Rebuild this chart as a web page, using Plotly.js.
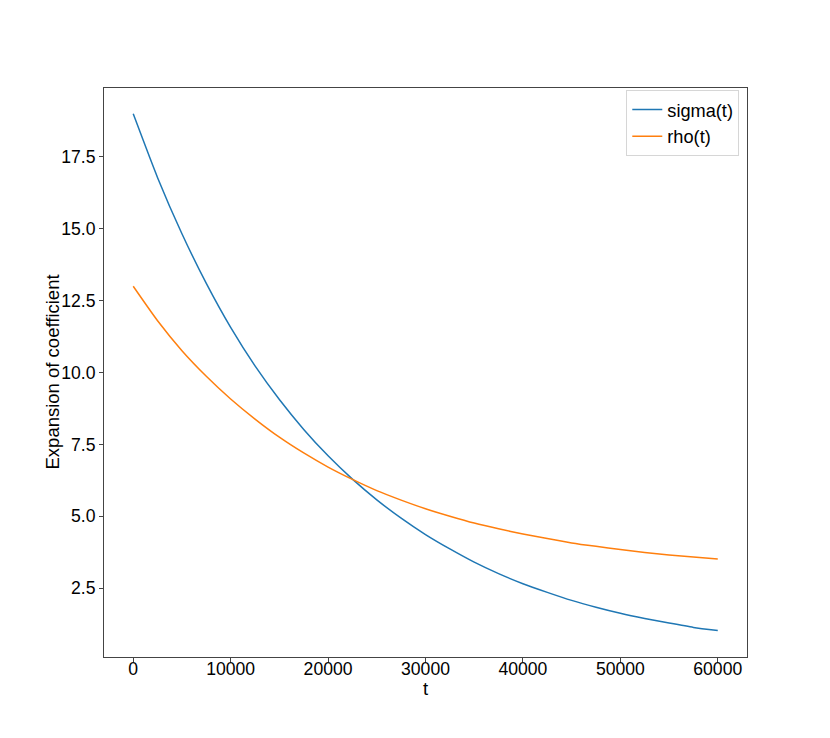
<!DOCTYPE html>
<html>
<head>
<meta charset="utf-8">
<script src="https://cdn.plot.ly/plotly-3.0.1.min.js"></script>
<style>html,body{margin:0;padding:0;background:#fff;}#chart{width:830px;height:738px;}</style>
</head>
<body>
<div id="chart"></div>
<script>
// t values (every 2500)
const tValues = [0,2500,5000,7500,10000,12500,15000,17500,20000,22500,25000,27500,30000,
                 32500,35000,37500,40000,42500,45000,47500,50000,52500,55000,57500,60000];
// sigma(t)
const sigmaValues = [19.00,16.78,14.83,13.10,11.57,10.23,9.06,8.02,7.10,6.29,5.57,4.93,4.36,
                     3.86,3.40,3.00,2.65,2.35,2.07,1.83,1.62,1.44,1.28,1.13,1.02];
// rho(t)
const rhoValues = [13.00,11.80,10.76,9.87,9.08,8.38,7.75,7.20,6.71,6.28,5.89,5.56,5.26,
                   5.00,4.76,4.56,4.38,4.22,4.07,3.95,3.84,3.74,3.65,3.58,3.51];
const seriesNames = ["sigma(t)", "rho(t)"];
const xTicks = [0,10000,20000,30000,40000,50000,60000];
const yTicks = [2.5,5.0,7.5,10.0,12.5,15.0,17.5];
const xTitle = "t";
const yTitle = "Expansion of coefficient";

const font = "Liberation Sans, Arial, sans-serif";
const fs = 17.6;
const traces = [
  {x: tValues, y: sigmaValues, name: seriesNames[0], mode: "lines",
   line: {color: "#1f77b4", width: 1.5, shape: "spline", smoothing: 0.6}},
  {x: tValues, y: rhoValues, name: seriesNames[1], mode: "lines",
   line: {color: "#ff7f0e", width: 1.5, shape: "spline", smoothing: 0.6}}
];
const layout = {
  width: 830, height: 738,
  margin: {l: 104, r: 83, t: 88, b: 81},
  paper_bgcolor: "#fff", plot_bgcolor: "#fff",
  font: {family: font, size: fs, color: "#000"},
  showlegend: true,
  legend: {x: 0.988, y: 0.996, xanchor: "right", yanchor: "top",
           bordercolor: "#d6d6d6", borderwidth: 1, bgcolor: "rgba(255,255,255,0.8)",
           font: {family: font, size: 18.2, color: "#000"}, tracegroupgap: 0},
  xaxis: {range: [-3000, 63000], tickvals: xTicks, tickformat: "d", automargin: false,
          showgrid: false, zeroline: false, showline: true, mirror: true,
          linecolor: "#444", linewidth: 1, ticks: "outside", ticklen: 4, tickwidth: 1,
          tickcolor: "#444", tickfont: {family: font, size: fs}, ticklabelstandoff: -8},
  yaxis: {range: [0.1, 19.9], tickvals: yTicks, tickformat: ".1f", automargin: false,
          showgrid: false, zeroline: false, showline: true, mirror: true,
          linecolor: "#444", linewidth: 1, ticks: "outside", ticklen: 4, tickwidth: 1,
          tickcolor: "#444", tickfont: {family: font, size: fs}},
  annotations: [
    {text: xTitle, xref: "paper", yref: "paper", x: 0.5, y: 0, yshift: -31,
     xanchor: "center", yanchor: "middle", showarrow: false,
     font: {family: font, size: 18.5, color: "#000"}},
    {text: yTitle, xref: "paper", yref: "paper", x: 0, y: 0.5, xshift: -52,
     xanchor: "center", yanchor: "middle", textangle: -90, showarrow: false,
     font: {family: font, size: 18.5, color: "#000"}}
  ]
};
Plotly.newPlot("chart", traces, layout, {displayModeBar: false, staticPlot: true});
</script>
</body>
</html>
